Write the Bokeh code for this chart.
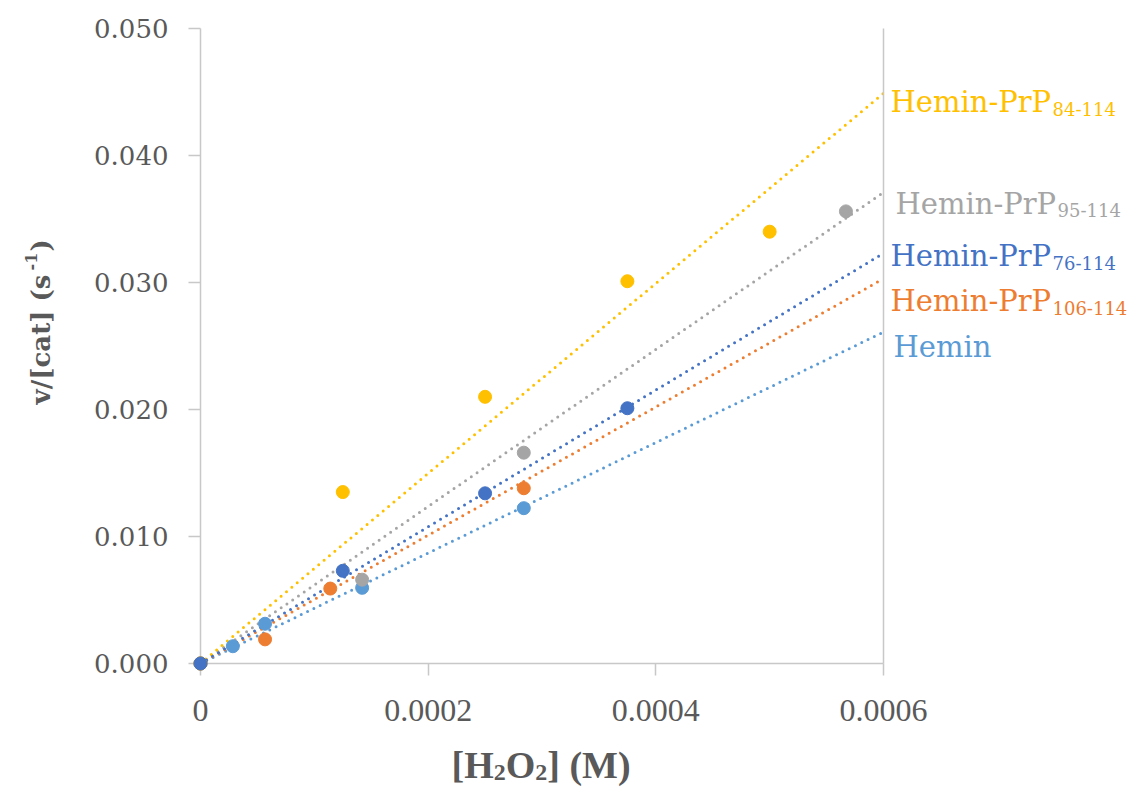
import math
from bokeh.plotting import figure
from bokeh.models import LinearAxis, FixedTicker, NumeralTickFormatter, Range1d
from bokeh.core.properties import value
from bokeh.embed import file_html
from bokeh.resources import INLINE

# ---------------- data ----------------
series_names = ["Hemin", "Hemin-PrP106-114", "Hemin-PrP95-114", "Hemin-PrP84-114", "Hemin-PrP76-114"]
label_main = ["Hemin", "Hemin-PrP", "Hemin-PrP", "Hemin-PrP", "Hemin-PrP"]
label_sub = ["", "106-114", "95-114", "84-114", "76-114"]
colors = ["#5B9BD5", "#ED7D31", "#A5A5A5", "#FFC000", "#4472C4"]

hemin_x = [0.0, 0.0000284, 0.0000567, 0.000142, 0.000284]
hemin_y = [0.0, 0.00136, 0.00313, 0.00596, 0.01223]

prp106_x = [0.0, 0.0000567, 0.000114, 0.000284]
prp106_y = [0.0, 0.0019, 0.0059, 0.0138]

prp95_x = [0.0, 0.000142, 0.000284, 0.000567]
prp95_y = [0.0, 0.0066, 0.0166, 0.0356]

prp84_x = [0.0, 0.000125, 0.00025, 0.000375, 0.0005]
prp84_y = [0.0, 0.0135, 0.0210, 0.0301, 0.0340]

prp76_x = [0.0, 0.000125, 0.00025, 0.000375]
prp76_y = [0.0, 0.0073, 0.0134, 0.0201]

# linear trendlines (through origin), value read at x = 0.0006
trend_x = [0.0, 0.0006]
trend_end_y = [0.0261, 0.0303, 0.0371, 0.0449, 0.0323]

# label baselines (data y) beside the line ends
label_y = [0.0249, 0.02853, 0.03622, 0.0442, 0.03205]
label_dx = [10, 7, 12, 7, 7]

x_ticks = [0.0, 0.0002, 0.0004, 0.0006]
y_ticks = [0.0, 0.01, 0.02, 0.03, 0.04, 0.05]

xs = [hemin_x, prp106_x, prp95_x, prp84_x, prp76_x]
ys = [hemin_y, prp106_y, prp95_y, prp84_y, prp76_y]

AXIS_COL = "#C8C8C8"
TEXT_COL = "#595959"

p = figure(width=1127, height=787,
           x_range=Range1d(0, 0.0006), y_range=Range1d(0, 0.05),
           output_backend="svg", toolbar_location=None,
           min_border_left=200, min_border_right=244,
           min_border_top=28, min_border_bottom=124)
p.xgrid.visible = False
p.ygrid.visible = False
p.outline_line_color = None
p.background_fill_color = "white"

xa = p.xaxis[0]
xa.ticker = FixedTicker(ticks=x_ticks)
xa.formatter = NumeralTickFormatter(format="0.[0000]")
xa.axis_line_color = AXIS_COL
xa.axis_line_width = 1.5
xa.major_tick_line_color = AXIS_COL
xa.major_tick_line_width = 1.5
xa.major_tick_out = 12
xa.major_tick_in = 0
xa.minor_tick_line_color = None
xa.major_label_text_font = "Liberation Serif"
xa.major_label_text_font_size = "32px"
xa.major_label_text_color = TEXT_COL
xa.major_label_standoff = 24

ya = p.yaxis[0]
ya.ticker = FixedTicker(ticks=y_ticks)
ya.formatter = NumeralTickFormatter(format="0.000")
ya.axis_line_color = AXIS_COL
ya.axis_line_width = 1.5
ya.major_tick_line_color = AXIS_COL
ya.major_tick_line_width = 1.5
ya.major_tick_out = 12
ya.major_tick_in = 0
ya.minor_tick_line_color = None
ya.major_label_text_font = "DejaVu Serif"
ya.major_label_text_font_size = "26px"
ya.major_label_text_color = TEXT_COL
ya.major_label_standoff = 20

ra = LinearAxis(ticker=FixedTicker(ticks=[]), axis_line_color=AXIS_COL, axis_line_width=1.5,
                major_tick_out=0, major_tick_in=0, minor_tick_out=0, minor_tick_in=0,
                major_label_text_font_size="0px")
p.add_layout(ra, "right")

# trendlines
for i in range(5):
    p.line(trend_x, [0.0, trend_end_y[i]], line_color=colors[i], line_width=3,
           line_dash="0 7", line_cap="round")

# markers
for i in range(5):
    p.scatter(xs[i], ys[i], size=13, fill_color=colors[i], line_color=colors[i],
              line_width=1, level="overlay")


def put_text(x, y, t, font, size, color, dx=0, dy=0, bold=False, angle=0.0):
    p.text(x=[x], y=[y], text=[t], x_offset=dx, y_offset=-dy, angle=angle,
           text_font=value(font), text_font_size=size, text_color=color,
           text_font_style="bold" if bold else "normal",
           text_align="left", text_baseline="alphabetic", level="overlay")


# series labels at the right
for i in range(5):
    put_text(trend_x[1], label_y[i], label_main[i], "DejaVu Serif", "29px", colors[i], dx=label_dx[i])
    if label_sub[i]:
        put_text(trend_x[1], label_y[i], label_sub[i], "DejaVu Serif", "18px", colors[i],
                 dx=label_dx[i] + 162, dy=-6.6)

# x axis title  [H2O2] (M)
xt_x = 0.0003
xt_y = -0.00803
pieces = [("[H", -90.5, 0, "38px"), ("2", -48.3, -7, "24px"), ("O", -36.3, 0, "38px"),
          ("2", -6.7, -7, "24px"), ("] (M)", 5.3, 0, "38px")]
for t, dx, dy, fs in pieces:
    put_text(xt_x, xt_y, t, "Liberation Serif", fs, TEXT_COL, dx=dx, dy=dy, bold=True)

# y axis title  v/[cat] (s-1)   (rotated, reads bottom to top)
yt_x = -0.0001405
yt_y = 0.0204
put_text(yt_x, yt_y, "v/[cat] (s", "DejaVu Serif", "26px", TEXT_COL, bold=True, angle=math.pi / 2)
put_text(yt_x, yt_y, "-1", "DejaVu Serif", "16px", TEXT_COL, dx=-10, dy=134, bold=True, angle=math.pi / 2)
put_text(yt_x, yt_y, ")", "DejaVu Serif", "26px", TEXT_COL, dy=153, bold=True, angle=math.pi / 2)

open("out.html", "w").write(file_html(p, INLINE))
